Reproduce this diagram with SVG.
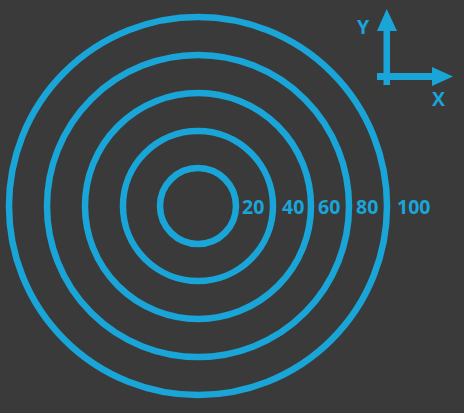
<svg xmlns="http://www.w3.org/2000/svg" width="464" height="413" viewBox="0 0 464 413">
<style>
.ring{fill:none;stroke:#19a5d8;stroke-width:6.5}
.lbl{font-family:"Open Sans","Liberation Sans",sans-serif;font-weight:700;font-size:19.5px;fill:#19a5d8}
.ax{fill:#19a5d8}
</style>
<rect width="464" height="413" fill="#3a3a3a"/>
<g id="rings">
<circle class="ring" cx="198" cy="206" r="189"/>
<circle class="ring" cx="198" cy="206" r="151"/>
<circle class="ring" cx="198" cy="206" r="113"/>
<circle class="ring" cx="198" cy="206" r="75"/>
<circle class="ring" cx="198" cy="206" r="38"/>
</g>
<g id="labels" class="lbl">
<text x="242" y="213.5">20</text>
<text x="282" y="213.5">40</text>
<text x="318" y="213.5">60</text>
<text x="356" y="213.5">80</text>
<text x="397" y="213.5">100</text>
</g>
<g id="axes" class="ax">
<rect x="383.5" y="30" width="6.5" height="55"/>
<polygon points="377,31 386.7,9 397,31"/>
<rect x="377" y="73" width="57" height="7"/>
<polygon points="432,67 453,76.5 432,86"/>
<text class="lbl" x="357" y="33.5">Y</text>
<text class="lbl" x="432" y="105.5">X</text>
</g>
</svg>
